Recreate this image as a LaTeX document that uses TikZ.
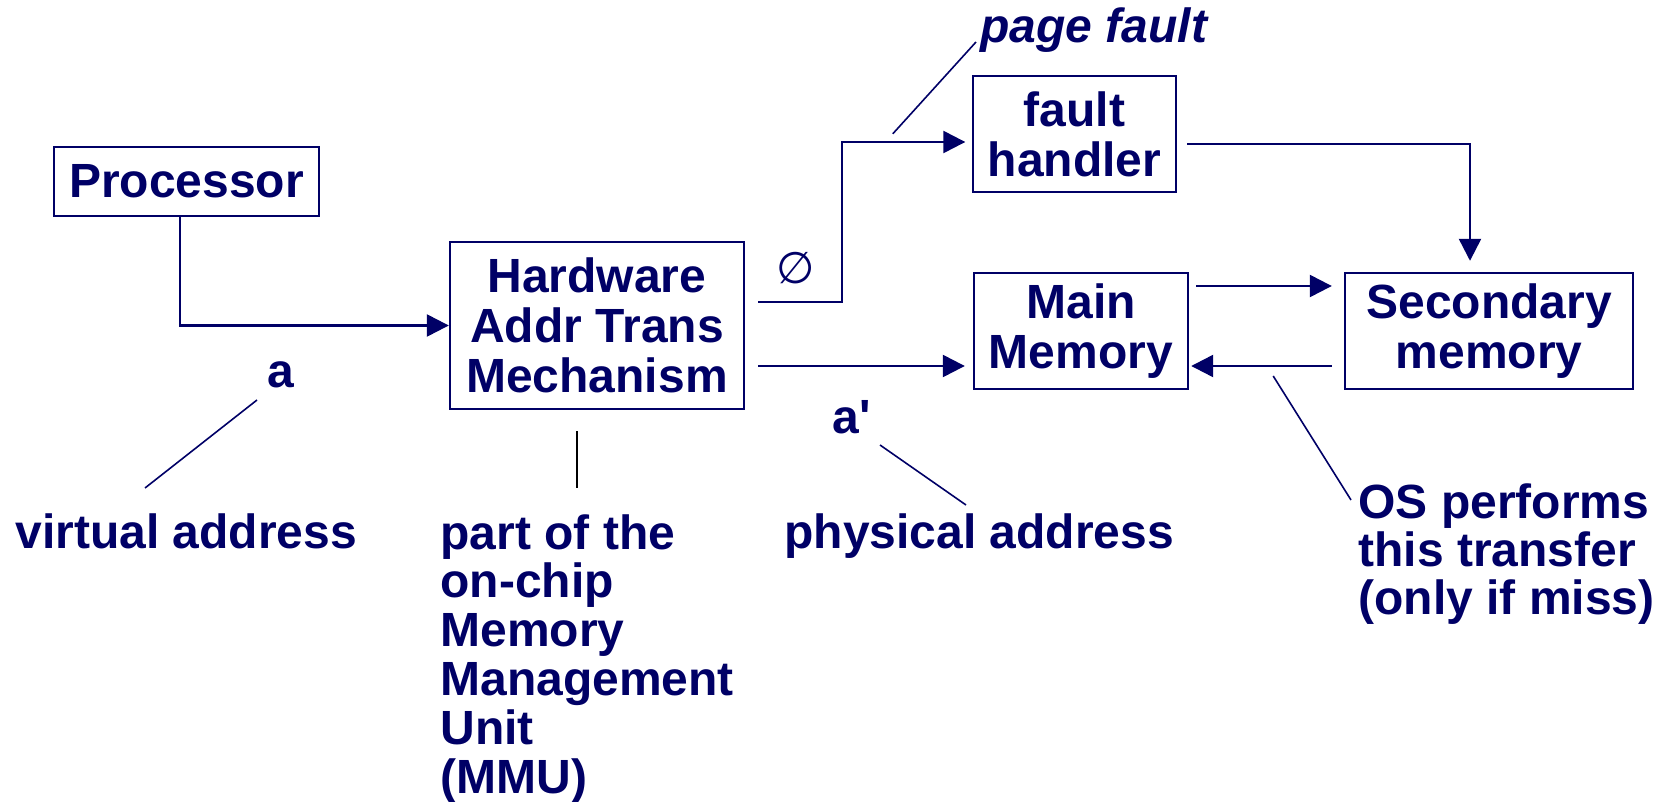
\documentclass[tikz,border=0pt]{standalone}
\usepackage{fontspec}
\setmainfont{Liberation Sans}
\newfontfamily\symfont{DejaVu Sans}
\usetikzlibrary{arrows.meta}
\definecolor{navy}{RGB}{0,0,102}

\tikzset{
  box/.style={draw=navy, line width=1.2pt, inner sep=0pt, align=center,
    text=navy, font=\fontsize{24}{25}\selectfont\bfseries},
  lbl/.style={inner sep=0pt, align=left, text=navy,
    font=\fontsize{24}{24.4}\selectfont\bfseries},
  conn/.style={draw=navy, line width=1.2pt},
  arr/.style={conn, -{Triangle[length=11pt,width=11pt]}},
  leader/.style={draw=navy, line width=0.8pt},
}

\begin{document}
\begin{tikzpicture}[x=0.5pt, y=-0.5pt]
\useasboundingbox (0,0) rectangle (1665,802);

% blocks
\node[box, minimum width=132.5pt, minimum height=34.5pt] (proc) at (186.5,181.5) {Processor};
\node[box, minimum width=147pt, minimum height=83.5pt] (hw) at (597,325.5) {Hardware\\Addr Trans\\Mechanism};
\node[box, minimum width=101.5pt, minimum height=58pt] (fh) at (1074.5,134) {fault\\handler};
\node[box, minimum width=107pt, minimum height=58pt] (mm) at (1081,331) {Main\\Memory};
\node[box, minimum width=144pt, minimum height=58pt] (sm) at (1489,331) {Secondary\\memory};

% labels
\node[lbl, anchor=base] (la) at (281,387) {a};
\node[lbl, anchor=base west] (lap) at (832,433) {a\textquotesingle};
\node[lbl, anchor=base west] (virt) at (15,548) {virtual address};
\node[lbl, anchor=base west] (phys) at (784,548) {physical address};
\node[lbl, anchor=north west] (mmu) at (440,514) {part of the\\on-chip\\Memory\\Management\\Unit\\(MMU)};
\node[lbl, anchor=north west, font=\fontsize{24}{24}\selectfont\bfseries] (os) at (1358,483) {OS performs\\this transfer\\(only if miss)};
\node[lbl, anchor=base west, font=\fontsize{24}{24}\selectfont\bfseries\itshape] (pf) at (980,43) {page fault};
\node[text=navy, inner sep=0pt, font=\symfont\fontsize{22}{22}\selectfont] (empty) at (796,268) {∅};

% data paths
\draw[arr] ([shift={(-6.5,0)}]proc.south) |- (hw.west);
\draw[arr] ([shift={(13,-23.5)}]hw.east) -- ++(84,0) |- ([shift={(-6.5,8)}]fh.west);
\draw[arr] ([shift={(13,40.5)}]hw.east) -- ([shift={(-8,35)}]mm.west);
\draw[arr] ([shift={(10,10)}]fh.east) -| ([shift={(-19,-11)}]sm.north);
\draw[arr] ([shift={(7,-45)}]mm.east) -- ([shift={(-12,-45)}]sm.west);
\draw[arr] ([shift={(-12,35)}]sm.west) -- ([shift={(2,35)}]mm.east);

% annotation leaders
\draw[leader] ([shift={(-24,13)}]la.base) -- ([shift={(130,-60)}]virt.base west);
\draw[leader] ([shift={(48,12)}]lap.base west) -- ([shift={(182,-43)}]phys.base west);
\draw[leader] ([shift={(-4,-1)}]pf.base west) -- ([shift={(-79,59)}]fh.north west);
\draw[leader] ([shift={(84,45)}]mm.east) -- ([shift={(-7,17)}]os.north west);
\draw[black, line width=0.6pt] ([shift={(-20,21)}]hw.south) -- ([shift={(137,-26)}]mmu.north west);
\end{tikzpicture}
\end{document}
